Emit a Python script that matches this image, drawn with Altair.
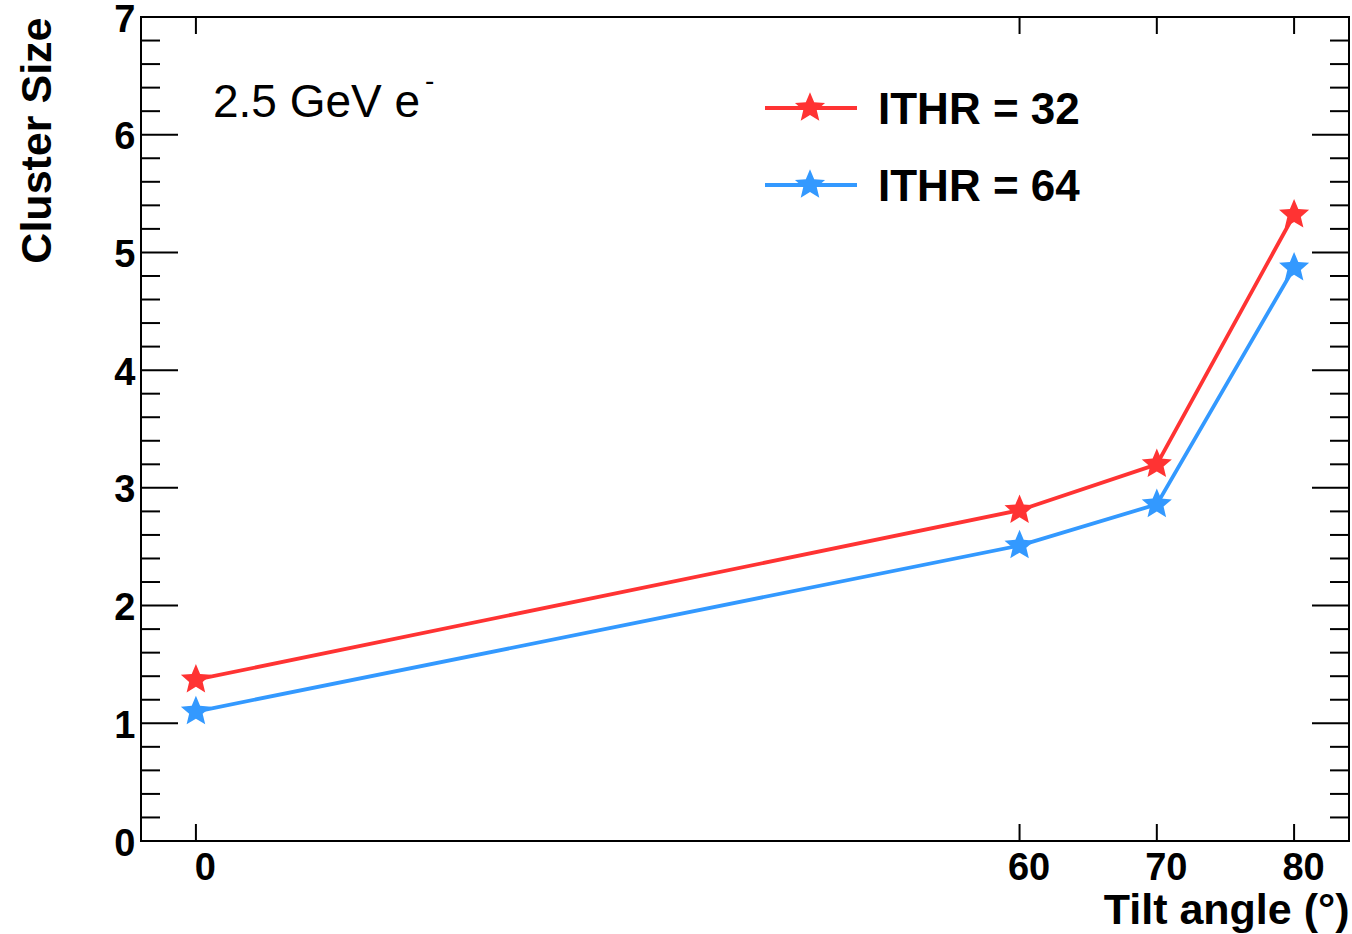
import altair as alt
import pandas as pd

# Mean cluster size versus sensor tilt angle, for two threshold settings
tilt_angles = [0, 60, 70, 80]
cluster_ithr32 = [1.37, 2.81, 3.20, 5.32]
cluster_ithr64 = [1.10, 2.51, 2.86, 4.87]
series_names = ["ITHR = 32", "ITHR = 64"]
series_colors = ["#ff3333", "#3399ff"]

# Axis tick layout
x_ticks = [0, 60, 70, 80]
y_major = [0, 1, 2, 3, 4, 5, 6, 7]
y_minor = [round(m + f, 1) for m in range(7) for f in (0.2, 0.4, 0.6, 0.8)]

W, H = 1208, 824
FONT = "Liberation Sans"
STAR_SIZE = 1000

# Five-pointed star (ROOT marker 29 look-alike), unit coordinates
STAR = ("M0,-1 L0.265,-0.364 L0.951,-0.309 L0.428,0.139 L0.588,0.809 "
        "L0,0.45 L-0.588,0.809 L-0.428,0.139 L-0.951,-0.309 L-0.265,-0.364 Z")

rows = []
for name, vals in zip(series_names, [cluster_ithr32, cluster_ithr64]):
    for a, v in zip(tilt_angles, vals):
        rows.append({"angle": a, "size": v, "series": name})
df = pd.DataFrame(rows)

xscale = alt.Scale(domain=[-4, 84], nice=False, zero=False)
yscale = alt.Scale(domain=[0, 7], nice=False, zero=False)
color = alt.Color("series:N", scale=alt.Scale(domain=series_names, range=series_colors), legend=None)

x_axis = alt.Axis(values=x_ticks, ticks=False, domain=False, grid=False, format="d",
                  labelFont=FONT, labelFontWeight="bold", labelFontSize=38,
                  labelColor="black", labelPadding=8, labelOffset=9,
                  title="Tilt angle (°)", titleFont=FONT, titleFontWeight="bold",
                  titleFontSize=43, titleColor="black", titleAnchor="end",
                  titleAlign="right", titleBaseline="alphabetic", titleX=W, titleY=82)
y_axis = alt.Axis(values=y_major, ticks=False, domain=False, grid=False, format="d",
                  labelFont=FONT, labelFontWeight="bold", labelFontSize=38,
                  labelColor="black", labelPadding=6, labelOffset=3,
                  title="Cluster Size", titleFont=FONT, titleFontWeight="bold",
                  titleFontSize=43, titleColor="black", titleAngle=270,
                  titleAnchor="end", titleAlign="right", titleBaseline="alphabetic",
                  titleX=-91, titleY=0)

base = alt.Chart(df)
lines = base.mark_line(strokeWidth=3.8).encode(
    x=alt.X("angle:Q", scale=xscale, axis=x_axis),
    y=alt.Y("size:Q", scale=yscale, axis=y_axis),
    color=color,
    detail="series:N",
)
points = base.mark_point(shape=STAR, filled=True, size=STAR_SIZE, opacity=1).encode(
    x=alt.X("angle:Q", scale=xscale),
    y=alt.Y("size:Q", scale=yscale),
    color=color,
)

# Inward-pointing ticks on all four sides of the frame
ymaj_df = pd.DataFrame({"v": y_major})
ymin_df = pd.DataFrame({"v": y_minor})
xt_df = pd.DataFrame({"v": x_ticks})
tick_layers = []
for d, length in [(ymaj_df, 37), (ymin_df, 19)]:
    for x0, x1 in [(0, length), (W - length, W)]:
        tick_layers.append(
            alt.Chart(d).mark_rule(color="black", strokeWidth=2).encode(
                y=alt.Y("v:Q", scale=yscale),
                x=alt.value(x0), x2=alt.value(x1),
            )
        )
for y0, y1 in [(0, 17), (H - 17, H)]:
    tick_layers.append(
        alt.Chart(xt_df).mark_rule(color="black", strokeWidth=2).encode(
            x=alt.X("v:Q", scale=xscale),
            y=alt.value(y0), y2=alt.value(y1),
        )
    )

# Legend: line sample with star, then label
legend_layers = []
for i, (name, col) in enumerate(zip(series_names, series_colors)):
    yc = 91 + 77 * i
    one = pd.DataFrame({"label": [name]})
    legend_layers.append(
        alt.Chart(one).mark_rule(color=col, strokeWidth=3.8).encode(
            x=alt.value(624), x2=alt.value(716), y=alt.value(yc)))
    legend_layers.append(
        alt.Chart(one).mark_point(shape=STAR, filled=True, size=STAR_SIZE, opacity=1, color=col).encode(
            x=alt.value(669), y=alt.value(yc)))
    legend_layers.append(
        alt.Chart(one).mark_text(font=FONT, fontWeight="bold", fontSize=44, color="black",
                                 align="left", baseline="alphabetic").encode(
            text="label:N", x=alt.value(737), y=alt.value(yc + 16)))

# Beam annotation
beam = pd.DataFrame({"t": ["2.5 GeV e"]})
beam_sup = pd.DataFrame({"t": ["-"]})
annot = [
    alt.Chart(beam).mark_text(font=FONT, fontSize=46, color="black",
                              align="left", baseline="alphabetic").encode(
        text="t:N", x=alt.value(72), y=alt.value(100)),
    alt.Chart(beam_sup).mark_text(font=FONT, fontSize=28, color="black",
                                  align="left", baseline="alphabetic").encode(
        text="t:N", x=alt.value(284), y=alt.value(73)),
]

chart = alt.layer(lines, points, *tick_layers, *legend_layers, *annot).properties(
    width=W, height=H,
    autosize=alt.AutoSizeParams(type="none"),
    padding={"left": 141, "top": 17, "right": 3, "bottom": 93},
    background="white",
).configure_view(stroke="black", strokeWidth=2)

chart.save("out.html", embed_options={"renderer": "svg", "actions": False})
